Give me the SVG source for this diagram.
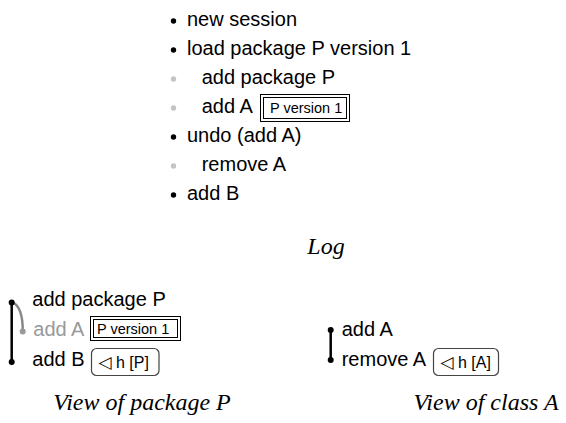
<svg xmlns="http://www.w3.org/2000/svg" width="566" height="423" viewBox="0 0 566 423">
<style>
.t{font-family:"Liberation Sans",Arial,sans-serif;font-size:20px;fill:#000}
.g{fill:#999}
.s{font-family:"Liberation Sans","DejaVu Sans",sans-serif;font-size:14.5px;fill:#000}
.h{font-family:"Liberation Sans","DejaVu Sans",sans-serif;font-size:16px;fill:#000}
.tri{font-family:"DejaVu Sans",sans-serif;font-size:17px}
.cap{font-family:"Liberation Serif","Times New Roman",serif;font-style:italic;font-size:24px;fill:#000;text-anchor:middle}
.b{fill:#000}
.gb{fill:#c4c4c4}
.box{fill:none;stroke:#000;stroke-width:1}
.rbox{fill:none;stroke:#444;stroke-width:1.2}
.line{stroke:#000;stroke-width:2.5;fill:none}
.gline{stroke:#888;stroke-width:2.5;fill:none}
</style>
<g id="log">
<circle class="b" cx="173.5" cy="21" r="2.7"/>
<text class="t" x="187" y="26">new session</text>
<circle class="b" cx="173.5" cy="50" r="2.7"/>
<text class="t" x="187" y="55">load package P version 1</text>
<circle class="gb" cx="173.5" cy="79" r="2.7"/>
<text class="t" x="201.7" y="84">add package P</text>
<circle class="gb" cx="173.5" cy="108" r="2.7"/>
<text class="t" x="201.7" y="113">add A</text>
<g id="log-tag">
<rect class="box" x="260.5" y="94.5" width="89" height="27"/>
<rect class="box" x="263.5" y="97.5" width="83" height="21"/>
<text class="s" x="270" y="113">P version 1</text>
</g>
<circle class="b" cx="173.5" cy="137" r="2.7"/>
<text class="t" x="187" y="142">undo (add A)</text>
<circle class="gb" cx="173.5" cy="166" r="2.7"/>
<text class="t" x="201.7" y="171">remove A</text>
<circle class="b" cx="173.5" cy="195" r="2.7"/>
<text class="t" x="187" y="200">add B</text>
<text class="cap" x="326" y="254">Log</text>
</g>
<g id="connectors">
<path class="line" d="M11.7,302.5 L11.7,362"/>
<path class="gline" d="M11.7,302.5 C19,304 23,315 22.7,331.5"/>
<path class="line" d="M330.7,330 L330.7,360"/>
</g>
<g id="view-package">
<circle class="b" cx="11.7" cy="302.5" r="3"/>
<circle class="b" cx="11.7" cy="362" r="3"/>
<circle fill="#999" cx="22.7" cy="331.5" r="3"/>
<text class="t" x="32.3" y="306">add package P</text>
<text class="t g" x="33.3" y="336">add A</text>
<g id="pkg-tag">
<rect class="box" x="90.5" y="316.5" width="90" height="24"/>
<rect class="box" x="93.5" y="319.5" width="84" height="18"/>
<text class="s" x="97" y="334">P version 1</text>
</g>
<text class="t" x="32.3" y="366">add B</text>
<g id="pkg-hist">
<rect class="rbox" x="91.5" y="348.5" width="67.5" height="27" rx="5"/>
<text class="h" x="98.5" y="368"><tspan class="tri">◁</tspan> h [P]</text>
</g>
<text class="cap" x="142" y="410">View of package P</text>
</g>
<g id="view-class">
<circle class="b" cx="330.7" cy="330" r="3"/>
<circle class="b" cx="330.7" cy="360" r="3"/>
<text class="t" x="341.7" y="336">add A</text>
<text class="t" x="341.7" y="366">remove A</text>
<g id="class-hist">
<rect class="rbox" x="433.5" y="348.5" width="65" height="27" rx="5"/>
<text class="h" x="440.5" y="368"><tspan class="tri">◁</tspan> h [A]</text>
</g>
<text class="cap" x="486" y="410">View of class A</text>
</g>
</svg>
